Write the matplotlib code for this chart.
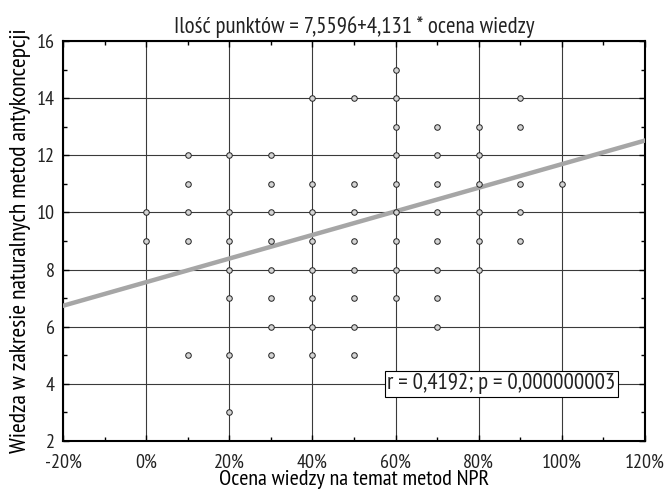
import numpy as np
import matplotlib
matplotlib.use("Agg")
import matplotlib.pyplot as plt
from matplotlib.ticker import MultipleLocator, FuncFormatter

plt.rcParams['font.family'] = ['PT Sans Narrow', 'DejaVu Sans']
plt.rcParams['font.stretch'] = 'condensed'
plt.rcParams['text.color'] = '#222222'
plt.rcParams['xtick.labelcolor'] = '#222222'
plt.rcParams['ytick.labelcolor'] = '#222222'

# Dane: ocena wiedzy (ułamek) -> wartości punktów
x_levels = [0.0, 0.1, 0.2, 0.3, 0.4, 0.5, 0.6, 0.7, 0.8, 0.9, 1.0]
y_values = [
    [10, 9],
    [12, 11, 10, 9, 5],
    [12, 10, 9, 8, 7, 5, 3],
    [12, 11, 10, 9, 8, 7, 6, 5],
    [14, 11, 10, 9, 8, 7, 6, 5],
    [14, 11, 10, 9, 8, 7, 6, 5],
    [15, 14, 13, 12, 11, 10, 9, 8, 7],
    [13, 12, 11, 10, 9, 8, 7, 6],
    [13, 12, 11, 10, 9, 8],
    [14, 13, 11, 10, 9],
    [11],
]

# Współczynniki regresji
intercept = 7.5596
slope = 4.131

xs = []
ys = []
for xv, col in zip(x_levels, y_values):
    for yv in col:
        xs.append(xv)
        ys.append(yv)

fig = plt.figure(figsize=(6.65, 4.92), dpi=100)
ax = fig.add_axes([63/665, 1 - 441/492, (645-63)/665, (441-41)/492])

ax.set_xlim(-0.2, 1.2)
ax.set_ylim(2, 16)

# -- siatka
ax.grid(True, which="major", color="#3a3a3a", linewidth=0.8)
ax.set_axisbelow(True)

# -- linia regresji
lx = np.array([-0.2, 1.2])
ax.plot(lx, intercept + slope*lx, color="#a6a6a6", linewidth=3.2, zorder=3)

# -- punkty
ax.plot(xs, ys, linestyle="none", marker="o", markersize=4,
        markerfacecolor="#d4d4d4", markeredgecolor="#222222",
        markeredgewidth=0.7, zorder=4)

ax.xaxis.set_major_locator(MultipleLocator(0.2))
ax.xaxis.set_minor_locator(MultipleLocator(0.1))
ax.yaxis.set_major_locator(MultipleLocator(2))
ax.yaxis.set_minor_locator(MultipleLocator(1))
ax.xaxis.set_major_formatter(FuncFormatter(lambda v, p: "%d%%" % round(v*100)))

ax.tick_params(which="both", direction="in", top=True, right=True,
               labelsize=14.5, color="black")
ax.tick_params(which="major", length=4, width=1)
ax.tick_params(which="minor", length=3, width=1)
ax.tick_params(axis="x", pad=9)
ax.tick_params(axis="y", pad=6)

for s in ax.spines.values():
    s.set_linewidth(1.5)
    s.set_color("black")

ax.set_title("Ilość punktów = 7,5596+4,131 * ocena wiedzy", fontsize=16.5, pad=6)
ax.set_xlabel("Ocena wiedzy na temat metod NPR", fontsize=16, labelpad=-1)
ax.set_ylabel("Wiedza w zakresie naturalnych metod antykoncepcji", fontsize=17, labelpad=4)

ax.text(0.855, 4, "r = 0,4192; p = 0,000000003", ha="center", va="center",
        fontsize=16.5, zorder=5,
        bbox=dict(boxstyle="square,pad=0.12", facecolor="white",
                  edgecolor="black", linewidth=0.8))

fig.savefig("out.png", dpi=100)
